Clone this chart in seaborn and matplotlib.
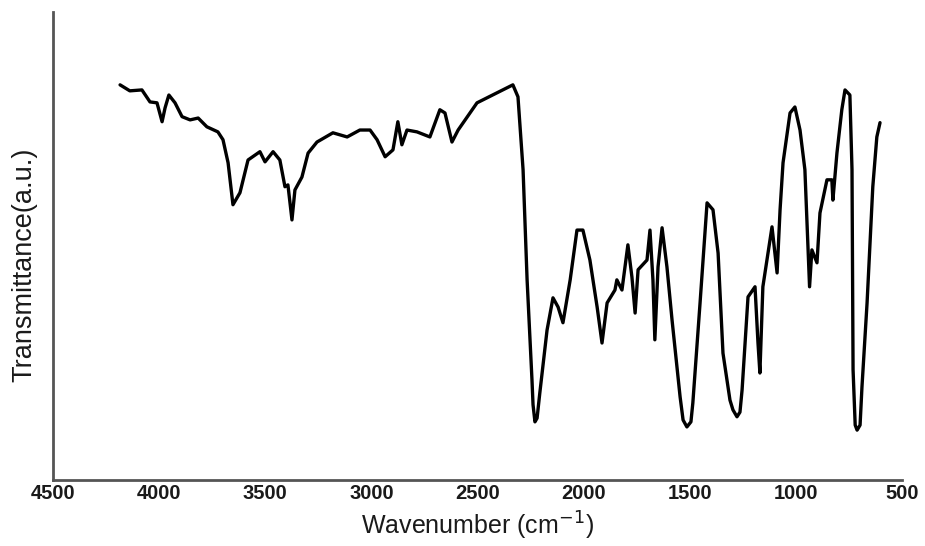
import numpy as np
import matplotlib
matplotlib.use("Agg")
import matplotlib.pyplot as plt
import pandas as pd
import seaborn as sns

sns.set_theme(style="white")
plt.rcParams['font.family'] = ['Liberation Sans', 'DejaVu Sans']

# FTIR spectrum (wavenumber in cm-1, transmittance in a.u.)
wavenumber = [4184, 4138, 4081, 4043, 4010, 3986, 3972, 3954, 3925, 3892,
              3854, 3816, 3775, 3723, 3699, 3675, 3652, 3619, 3581, 3525,
              3501, 3463, 3431, 3407, 3393, 3374, 3360, 3327, 3298, 3256,
              3181, 3114, 3054, 3006, 2973, 2935, 2898, 2875, 2856, 2832,
              2785, 2724, 2677, 2653, 2620, 2591, 2502, 2407, 2333, 2309,
              2285, 2266, 2243, 2238, 2229, 2219, 2206, 2172, 2144, 2120,
              2097, 2063, 2031, 2003, 1970, 1936, 1913, 1889, 1852, 1843,
              1819, 1791, 1772, 1757, 1743, 1701, 1687, 1673, 1664, 1649,
              1630, 1607, 1583, 1545, 1531, 1513, 1494, 1485, 1451, 1418,
              1390, 1366, 1343, 1310, 1296, 1277, 1263, 1253, 1225, 1192,
              1178, 1169, 1155, 1131, 1112, 1088, 1074, 1060, 1027, 1004,
              980, 957, 943, 935, 924, 900, 886, 853, 830, 825,
              806, 783, 768, 745, 735, 730, 720, 711, 697, 688,
              664, 637, 618, 603]
transmittance = [84.2, 82.9, 83.1, 80.5, 80.3, 76.2, 79.2, 82.0, 80.3, 77.3,
                 76.6, 77.0, 75.1, 74.0, 72.3, 67.3, 58.2, 60.8, 67.9, 69.7,
                 67.5, 69.7, 67.9, 62.1, 62.5, 54.9, 61.4, 64.2, 69.4, 71.8,
                 73.8, 72.9, 74.4, 74.4, 72.3, 68.6, 70.1, 76.2, 71.2, 74.4,
                 74.0, 72.9, 78.8, 78.1, 71.8, 74.4, 80.3, 82.5, 84.2, 81.6,
                 65.8, 41.9, 20.2, 14.8, 11.1, 11.9, 17.4, 31.0, 38.0, 36.0,
                 32.6, 41.9, 52.7, 52.7, 46.2, 36.0, 28.2, 36.9, 39.7, 41.9,
                 39.7, 49.5, 42.5, 34.7, 44.1, 46.2, 52.7, 41.9, 28.9, 44.7,
                 53.2, 44.7, 33.2, 16.5, 11.5, 10.0, 11.1, 15.2, 36.9, 58.6,
                 57.1, 47.7, 26.0, 15.8, 13.7, 12.2, 13.2, 18.0, 38.2, 40.4,
                 28.2, 21.7, 40.4, 47.7, 53.4, 43.4, 57.1, 67.3, 78.1, 79.4,
                 74.4, 65.8, 49.9, 40.4, 48.4, 45.6, 56.4, 63.6, 63.6, 59.2,
                 69.4, 78.8, 83.1, 82.0, 65.8, 22.4, 10.4, 9.3, 10.4, 18.7,
                 36.9, 62.1, 72.9, 76.0]
xticks = [4500, 4000, 3500, 3000, 2500, 2000, 1500, 1000, 500]

df = pd.DataFrame({'Wavenumber': wavenumber, 'Transmittance': transmittance})

fig = plt.figure(figsize=(9.25, 5.46), dpi=100)
ax = fig.add_axes([0.0573, 0.121, 0.9177, 0.857])
sns.lineplot(data=df, x='Wavenumber', y='Transmittance', color='black',
             linewidth=2.4, sort=False, estimator=None, ax=ax)
ax.lines[0].set_solid_joinstyle('round')

ax.set_xlim(4500, 500)
ax.set_ylim(-1.5, 100)
ax.set_xticks(xticks)
ax.set_xticklabels([str(t) for t in xticks], fontsize=14.5, fontweight='bold',
                   color='#1a1a1a')
ax.set_yticks([])
ax.tick_params(axis='x', length=0, pad=3)
ax.set_xlabel('Wavenumber (cm$^{-1}$)', fontsize=18, labelpad=5, color='#1a1a1a')
ax.set_ylabel('Transmittance(a.u.)', fontsize=19.5, labelpad=11, color='#1a1a1a')
ax.yaxis.label.set_y(0.46)

for side in ['top', 'right']:
    ax.spines[side].set_visible(False)
for side in ['left', 'bottom']:
    ax.spines[side].set_color('#555555')
    ax.spines[side].set_linewidth(2)

fig.savefig('out.png', dpi=100)
